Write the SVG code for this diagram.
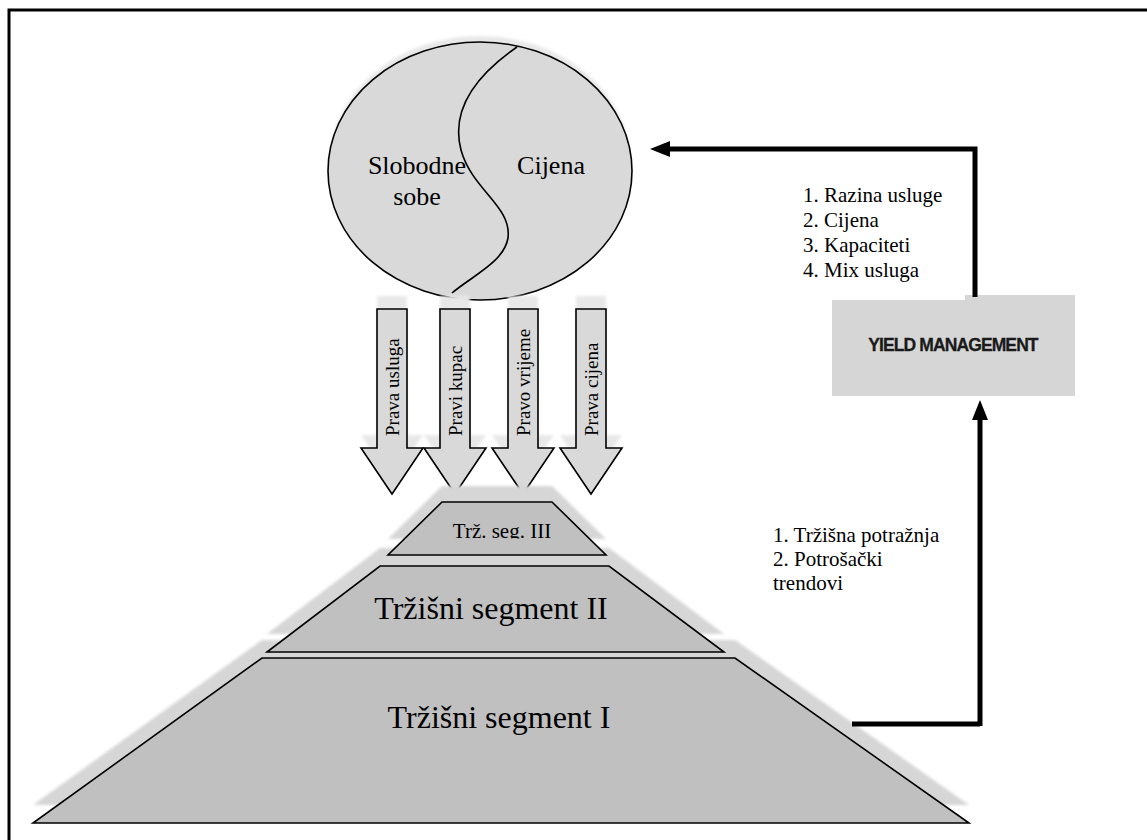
<svg xmlns="http://www.w3.org/2000/svg" width="1147" height="840" viewBox="0 0 1147 840">
  <defs>
    <style>
      .serif { font-family: "Liberation Serif", "Times New Roman", serif; fill: #000; }
      .shape { stroke: #000; stroke-width: 1.6; stroke-linejoin: miter; }
      .light { fill: #d9d9d9; }
      .pyr { fill: #c0c0c0; }
      .shadow { fill: #d6d6d6; filter: url(#soft); }
      .ghost { fill: #e8e8e8; filter: url(#soft); }
      .flow { fill: none; stroke: #000; stroke-width: 5; }
      .arrow-label { font-size: 19px; }
      .list { font-size: 21px; }
    </style>
    <filter id="soft" x="-10%" y="-10%" width="120%" height="120%">
      <feGaussianBlur stdDeviation="1.6"/>
    </filter>
    <marker id="head" viewBox="0 0 20 16" refX="0" refY="8" markerWidth="20" markerHeight="16" markerUnits="userSpaceOnUse" orient="auto">
      <path d="M0,0 L20,8 L0,16 Z" fill="#000"/>
    </marker>
    <clipPath id="segIIIclip">
      <rect x="380" y="490" width="240" height="48.5"/>
    </clipPath>
  </defs>

  <rect width="1147" height="840" fill="#fff"/>

  <!-- page frame (top and left edges) -->
  <path d="M9,840 V10 H1147" fill="none" stroke="#000" stroke-width="3"/>

  <g font-family="Liberation Serif, Times New Roman, serif">
    <!-- room / price circle -->
    <g id="rooms-price">
      <ellipse class="ghost" cx="480" cy="162" rx="150" ry="126"/>
      <ellipse class="shape light" cx="480" cy="171" rx="152" ry="129"/>
      <path d="M517,47 C478,74 450,108 461,150 C472,190 512,206 508,238 C504,262 472,276 452,293" fill="none" stroke="#000" stroke-width="1.6"/>
      <text class="serif" font-family="Liberation Serif, serif" font-size="26" text-anchor="middle" x="417" y="174">Slobodne</text>
      <text class="serif" font-family="Liberation Serif, serif" font-size="26" text-anchor="middle" x="417" y="205">sobe</text>
      <text class="serif" font-family="Liberation Serif, serif" font-size="26" text-anchor="middle" x="551" y="174">Cijena</text>
    </g>

    <!-- four "right ..." arrows -->
    <g id="arrow-usluga">
      <path class="ghost" d="M377,296 H407 V435 H423 L392,481 L361,435 H377 Z"/>
      <path class="shape light" d="M377,309 H407 V448 H423 L392,494 L361,448 H377 Z"/>
      <text class="serif arrow-label" transform="translate(399,436) rotate(-90)">Prava usluga</text>
    </g>
    <g id="arrow-kupac">
      <path class="ghost" d="M440,296 H470 V435 H486 L455,481 L424,435 H440 Z"/>
      <path class="shape light" d="M440,309 H470 V448 H486 L455,494 L424,448 H440 Z"/>
      <text class="serif arrow-label" transform="translate(462,436) rotate(-90)">Pravi kupac</text>
    </g>
    <g id="arrow-vrijeme">
      <path class="ghost" d="M508,296 H538 V435 H554 L523,481 L492,435 H508 Z"/>
      <path class="shape light" d="M508,309 H538 V448 H554 L523,494 L492,448 H508 Z"/>
      <text class="serif arrow-label" transform="translate(530,436) rotate(-90)">Pravo vrijeme</text>
    </g>
    <g id="arrow-cijena">
      <path class="ghost" d="M576,296 H606 V435 H622 L591,481 L560,435 H576 Z"/>
      <path class="shape light" d="M576,309 H606 V448 H622 L591,494 L560,448 H576 Z"/>
      <text class="serif arrow-label" transform="translate(598,436) rotate(-90)">Prava cijena</text>
    </g>

    <!-- market segment pyramid -->
    <g id="segment-I">
      <path class="shadow" d="M262,640 H735 L969,805 H33 Z"/>
      <path class="shape pyr" d="M262,658 H735 L969,823 H33 Z"/>
      <text class="serif" font-size="32" text-anchor="middle" x="499" y="728">Tržišni segment I</text>
    </g>
    <g id="segment-II">
      <path class="shadow" d="M380,548 H609 L724,634 H267 Z"/>
      <path class="shape pyr" d="M380,566 H609 L724,652 H267 Z"/>
      <text class="serif" font-size="32" text-anchor="middle" x="491" y="619">Tržišni segment II</text>
    </g>
    <g id="segment-III">
      <path class="shadow" d="M442,486 H552 L606,539 H388 Z"/>
      <path class="shape pyr" d="M442,502 H552 L606,555 H388 Z"/>
      <text class="serif" font-size="21" text-anchor="middle" x="502" y="538" clip-path="url(#segIIIclip)">Trž. seg. III</text>
    </g>
  </g>

  <!-- yield management box -->
  <g id="yield-management">
    <rect x="832" y="295" width="243" height="101" fill="#d6d6d6"/>
    <text x="953" y="351" text-anchor="middle" font-family="Liberation Sans, Arial, sans-serif" font-weight="bold" font-size="17.5" letter-spacing="-0.9" fill="#1a1a1a" stroke="#1a1a1a" stroke-width="0.3">YIELD MANAGEMENT</text>
  </g>

  <!-- feedback connectors -->
  <g id="connectors">
    <path class="flow" d="M980,724 H852" />
    <path class="flow" d="M980,726 V420" marker-end="url(#head)"/>
    <path class="flow" d="M975,297 V149 H670" marker-end="url(#head)"/>
  </g>

  <!-- connector labels -->
  <g id="label-levers" font-family="Liberation Serif, Times New Roman, serif">
    <rect x="803" y="165" width="162" height="135" fill="#fff"/>
    <text class="serif list" x="803" y="202">1. Razina usluge</text>
    <text class="serif list" x="803" y="227">2. Cijena</text>
    <text class="serif list" x="803" y="252">3. Kapaciteti</text>
    <text class="serif list" x="803" y="277">4. Mix usluga</text>
  </g>
  <g id="label-inputs" font-family="Liberation Serif, Times New Roman, serif">
    <text class="serif list" x="773" y="542">1. Tržišna potražnja</text>
    <text class="serif list" x="773" y="566">2. Potrošački</text>
    <text class="serif list" x="773" y="590">trendovi</text>
  </g>
</svg>
